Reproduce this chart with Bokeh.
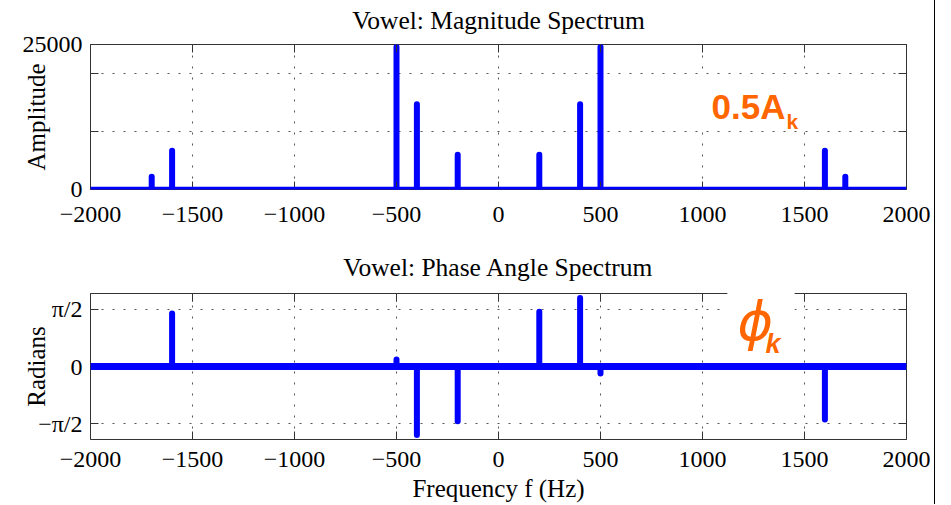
import math
from bokeh.plotting import figure
from bokeh.models import (Range1d, FixedTicker, LinearAxis, Grid, Span, Label,
                          BoxAnnotation, ColumnDataSource)
from bokeh.layouts import column
from bokeh.embed import file_html
from bokeh.resources import INLINE

# ---------------- data ----------------
freq_pos = [200, 400, 500, 1600, 1700]
amp_pos = [6000, 14700, 24600, 6700, 2200]
phase_pos = [1.50, 1.88, -0.19, -1.45, 0.0]

freqs = [-f for f in reversed(freq_pos)] + freq_pos
amps = list(reversed(amp_pos)) + amp_pos
phases = [-ph for ph in reversed(phase_pos)] + phase_pos

x_ticks = [-2000, -1500, -1000, -500, 0, 500, 1000, 1500, 2000]
x_tick_labels = ["−2000", "−1500", "−1000", "−500", "0", "500", "1000", "1500", "2000"]
amp_ticks = [0, 10000, 20000, 25000]
amp_tick_labels = ["0", "", "", "25000"]
phase_ticks = [-math.pi / 2, 0, math.pi / 2]
phase_tick_labels = ["−π/2", "0", "π/2"]

titles = ["Vowel: Magnitude Spectrum", "Vowel: Phase Angle Spectrum"]
y_titles = ["Amplitude", "Radians"]
x_title = "Frequency f (Hz)"

# ---------------- style ----------------
SERIF = "Liberation Serif"
SANS = "Liberation Sans"
BLUE = "#0000FF"
ORANGE = "#FF6600"
GRID = "#555555"
FRAME = "#333333"
PHI_GAP = [(-2000, 1122), (1451, 2000)]   # top frame pieces around the phi label


def add_text(p, x, y, text, font=SANS, size="25px", style="normal", color="black",
             align="left"):
    lab = Label(x=x, y=y, x_units="screen", y_units="screen", text=text,
                text_font=font, text_font_size=size, text_font_style=style,
                text_color=color, text_align=align, text_baseline="middle")
    p.add_layout(lab)
    return lab


def make_panel(title, y_lo, y_hi, y_ticks, y_labels, frame_h, b_top, b_bottom,
               title_standoff, x_label_standoff, y_label, y_label_standoff,
               top_pieces=None):
    p = figure(title=title, frame_width=816, frame_height=frame_h,
               x_range=Range1d(-2000, 2000), y_range=Range1d(y_lo, y_hi),
               x_axis_type=None, y_axis_type=None,
               output_backend="svg", toolbar_location=None,
               min_border_left=90, min_border_right=28,
               min_border_top=b_top, min_border_bottom=b_bottom)
    p.background_fill_color = "white"
    p.border_fill_color = "white"
    p.title.align = "center"
    p.title.text_font = SERIF
    p.title.text_font_size = "25.5px"
    p.title.text_font_style = "normal"
    p.title.text_color = "black"
    p.title.standoff = title_standoff

    if top_pieces is None:
        p.outline_line_color = FRAME
        p.outline_line_width = 1
        line_col = None
    else:
        p.outline_line_color = None
        line_col = FRAME

    xt = FixedTicker(ticks=x_ticks)
    yt = FixedTicker(ticks=y_ticks)

    common = dict(major_tick_in=8, major_tick_out=0, major_tick_line_color=FRAME,
                  minor_tick_line_color=None, axis_line_color=line_col,
                  major_label_text_font=SERIF, major_label_text_font_size="24px",
                  major_label_text_color="black",
                  axis_label_text_font=SERIF, axis_label_text_font_size="25px",
                  axis_label_text_font_style="normal", axis_label_text_color="black")

    bx = LinearAxis(ticker=xt, major_label_overrides=dict(zip(x_ticks, x_tick_labels)),
                    major_label_standoff=x_label_standoff, **common)
    p.add_layout(bx, "below")
    ly = LinearAxis(ticker=yt, major_label_overrides=dict(zip(y_ticks, y_labels)),
                    major_label_standoff=8, axis_label=y_label,
                    axis_label_standoff=y_label_standoff, **common)
    p.add_layout(ly, "left")

    mirror = dict(common)
    mirror["major_label_text_font_size"] = "0px"
    pieces = top_pieces if top_pieces is not None else ["auto"]
    for b in pieces:
        tx = LinearAxis(ticker=xt, major_label_overrides={t: "" for t in x_ticks},
                        major_label_standoff=0, bounds=b, **mirror)
        p.add_layout(tx, "above")
    ry = LinearAxis(ticker=yt, major_label_overrides={t: "" for t in y_ticks},
                    major_label_standoff=0, **mirror)
    p.add_layout(ry, "right")

    p.add_layout(Grid(dimension=0, ticker=xt, grid_line_color=GRID,
                      grid_line_dash="2 9", grid_line_width=1))
    p.add_layout(Grid(dimension=1, ticker=yt, grid_line_color=GRID,
                      grid_line_dash="2 9", grid_line_width=1))
    return p, bx


# ---------------- magnitude panel ----------------
p1, _ = make_panel(titles[0], 0, 25000, amp_ticks, amp_tick_labels, 145, 53, 46,
                   20, 17, y_titles[0], -30)
src1 = ColumnDataSource(dict(f=freqs, a=amps))
p1.add_layout(Span(location=0, dimension="width", line_color=BLUE, line_width=5.5))
p1.segment(x0="f", y0=0, x1="f", y1="a", source=src1, line_color=BLUE,
           line_width=6, line_cap="round")
p1.add_layout(BoxAnnotation(left=609, right=717, top=114, bottom=59,
                            left_units="screen", right_units="screen",
                            top_units="screen", bottom_units="screen",
                            fill_color="white", fill_alpha=1.0, line_color=None))
add_text(p1, 621, 83, "0.5A", size="35px", style="bold", color=ORANGE)
add_text(p1, 696, 68, "k", size="21px", style="bold", color=ORANGE)

# ---------------- phase panel ----------------
p2, bx2 = make_panel(titles[1], -2, 2, phase_ticks, phase_tick_labels, 146, 58, 60,
                     24, 12, y_titles[1], -15, top_pieces=PHI_GAP)
bx2.axis_label = x_title
bx2.axis_label_standoff = 5
src2 = ColumnDataSource(dict(f=freqs, ph=phases))
p2.add_layout(Span(location=0, dimension="width", line_color=BLUE, line_width=7))
p2.segment(x0="f", y0=0, x1="f", y1="ph", source=src2, line_color=BLUE,
           line_width=6, line_cap="round")
p2.add_layout(BoxAnnotation(left=637, right=704, top=153, bottom=82,
                            left_units="screen", right_units="screen",
                            top_units="screen", bottom_units="screen",
                            fill_color="white", fill_alpha=1.0, line_color=None))
add_text(p2, 647, 118, "ϕ", font="DejaVu Sans", size="54px", style="italic",
         color=ORANGE)
add_text(p2, 675, 96, "k", size="27px", style="bold italic", color=ORANGE)

layout = column(p1, p2, spacing=0,
                styles={"border-right": "1px solid black", "margin-top": "-9px"})

with open("out.html", "w") as fh:
    fh.write(file_html(layout, INLINE))
